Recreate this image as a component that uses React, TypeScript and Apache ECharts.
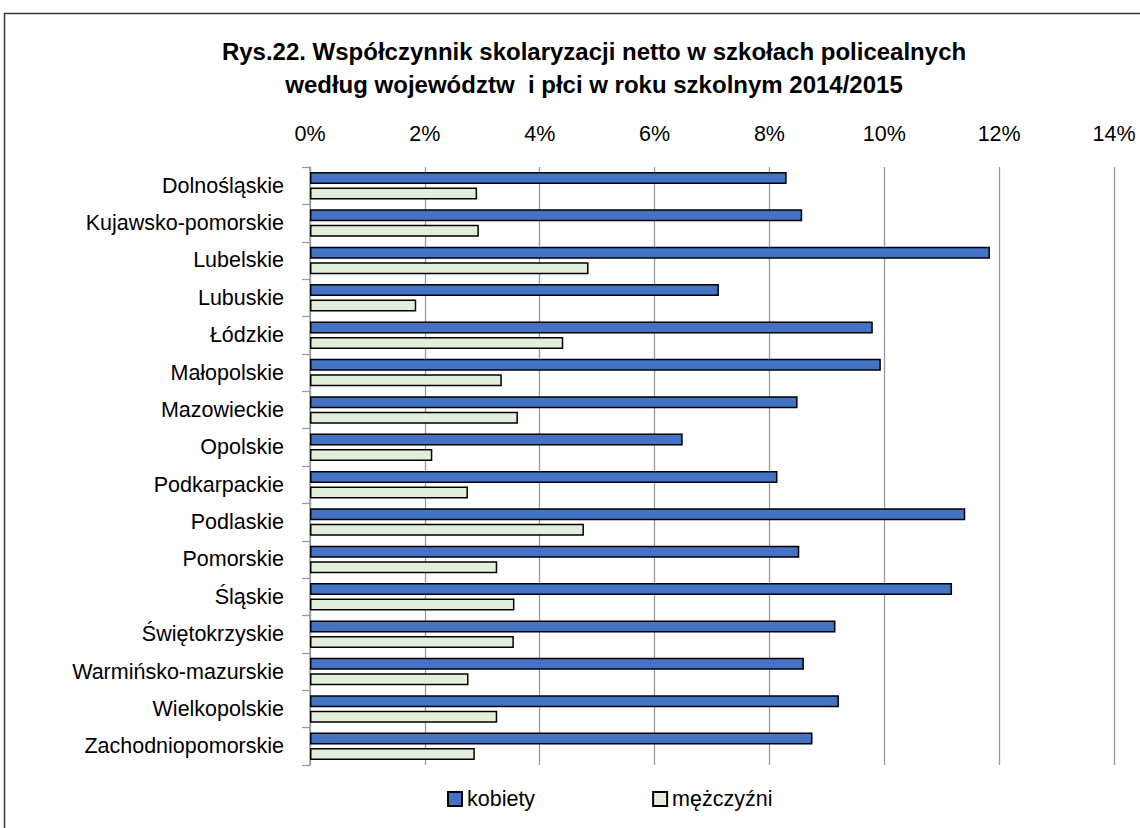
import React, { useEffect, useRef } from "react";
import * as echarts from "echarts";

const categories = [
  "Dolnośląskie",
  "Kujawsko-pomorskie",
  "Lubelskie",
  "Lubuskie",
  "Łódzkie",
  "Małopolskie",
  "Mazowieckie",
  "Opolskie",
  "Podkarpackie",
  "Podlaskie",
  "Pomorskie",
  "Śląskie",
  "Świętokrzyskie",
  "Warmińsko-mazurskie",
  "Wielkopolskie",
  "Zachodniopomorskie",
];

const kobiety = [8.3, 8.57, 11.84, 7.12, 9.8, 9.94, 8.49, 6.49, 8.14, 11.41, 8.52, 11.18, 9.15, 8.6, 9.21, 8.75];
const mezczyzni = [2.91, 2.94, 4.85, 1.85, 4.41, 3.34, 3.62, 2.13, 2.75, 4.77, 3.26, 3.56, 3.55, 2.76, 3.26, 2.87];

const seriesNames = ["kobiety", "mężczyźni"];
const titleLines = [
  "Rys.22. Współczynnik skolaryzacji netto w szkołach policealnych",
  "według województw  i płci w roku szkolnym 2014/2015",
];
const xMin = 0;
const xMax = 14;
const xInterval = 2;

const FONT = "'Liberation Sans', Arial, Helvetica, sans-serif";

export default function App() {
  const ref = useRef<HTMLDivElement>(null);
  useEffect(() => {
    if (!ref.current) return;
    const chart = echarts.init(ref.current, null, { renderer: "svg" });
    chart.setOption({
      animation: false,
      backgroundColor: "#ffffff",
      textStyle: { fontFamily: FONT },
      graphic: [
        {
          type: "rect",
          shape: { x: 4.5, y: 13.5, width: 1200, height: 900 },
          style: { fill: "none", stroke: "#3a3a3a", lineWidth: 1.5 },
          silent: true,
        },
        {
          type: "text",
          x: 594,
          y: 51,
          style: {
            text: titleLines[0],
            font: `bold 24px ${FONT}`,
            fill: "#000",
            textAlign: "center",
            textVerticalAlign: "middle",
          },
        },
        {
          type: "text",
          x: 594,
          y: 84,
          style: {
            text: titleLines[1],
            font: `bold 24px ${FONT}`,
            fill: "#000",
            textAlign: "center",
            textVerticalAlign: "middle",
          },
        },
      ],
      legend: {
        data: seriesNames,
        left: 447,
        top: 788,
        padding: 0,
        icon: "rect",
        itemWidth: 14,
        itemHeight: 14,
        itemGap: 117,
        textStyle: { fontSize: 21.5, color: "#000", fontFamily: FONT },
      },
      grid: { left: 310, right: 26, top: 167, bottom: 63, containLabel: false },
      xAxis: {
        type: "value",
        position: "top",
        min: xMin,
        max: xMax,
        interval: xInterval,
        axisLine: { show: false },
        axisTick: { show: false },
        axisLabel: {
          formatter: "{value}%",
          fontSize: 21.5,
          color: "#000",
          margin: 22,
          fontFamily: FONT,
        },
        splitLine: { show: true, lineStyle: { color: "#9a9a9a", width: 1.3 } },
      },
      yAxis: {
        type: "category",
        data: categories,
        inverse: true,
        axisLine: { show: true, lineStyle: { color: "#9a9a9a", width: 1.5 } },
        axisTick: { show: true, length: 8, lineStyle: { color: "#9a9a9a", width: 1.3 } },
        axisLabel: { fontSize: 21.5, color: "#000", margin: 26, fontFamily: FONT },
      },
      series: [
        {
          name: seriesNames[0],
          type: "bar",
          data: kobiety,
          barWidth: 12,
          barGap: "30%",
          itemStyle: { color: "#4472C4", borderColor: "#000", borderWidth: 1.5 },
        },
        {
          name: seriesNames[1],
          type: "bar",
          data: mezczyzni,
          barWidth: 12,
          barGap: "30%",
          itemStyle: { color: "#E2EFDA", borderColor: "#000", borderWidth: 1.5 },
        },
      ],
    });
    return () => chart.dispose();
  }, []);
  return (
    <div
      ref={ref}
      style={{ position: "fixed", left: 0, top: 0, width: 1140, height: 828, background: "#fff" }}
    />
  );
}
